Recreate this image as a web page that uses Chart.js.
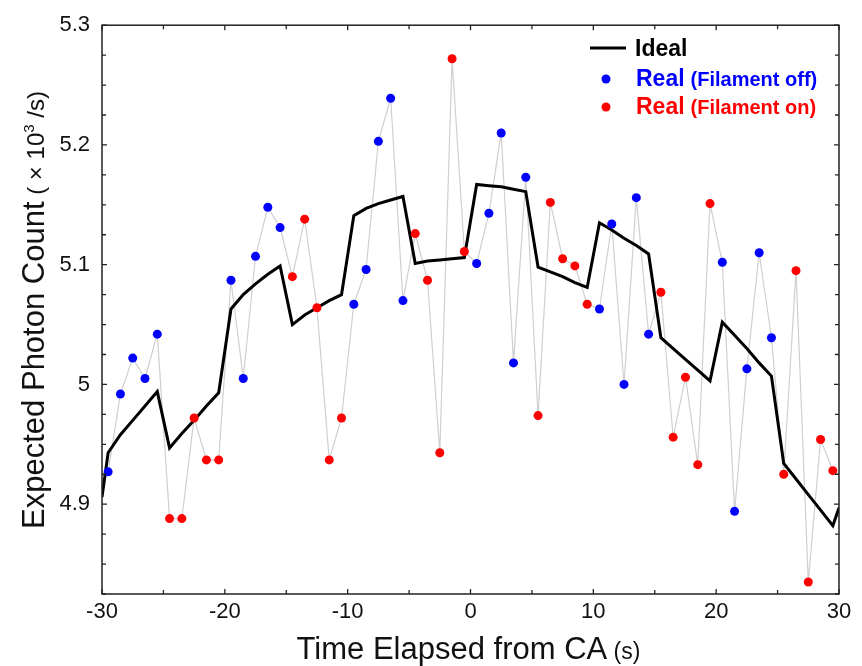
<!DOCTYPE html>
<html>
<head>
<meta charset="utf-8">
<script src="https://cdn.jsdelivr.net/npm/chart.js@4/dist/chart.umd.min.js"></script>
<style>
html,body{margin:0;padding:0;background:#fff;}
#wrap{width:862px;height:666px;position:relative;}
</style>
</head>
<body>
<div id="wrap"><canvas id="c" width="862" height="666"></canvas></div>
<script>
// ---- DATA ----
const realTimes = [-29.5,-28.5,-27.5,-26.5,-25.5,-24.5,-23.5,-22.5,-21.5,-20.5,
  -19.5,-18.5,-17.5,-16.5,-15.5,-14.5,-13.5,-12.5,-11.5,-10.5,
  -9.5,-8.5,-7.5,-6.5,-5.5,-4.5,-3.5,-2.5,-1.5,-0.5,
  0.5,1.5,2.5,3.5,4.5,5.5,6.5,7.5,8.5,9.5,
  10.5,11.5,12.5,13.5,14.5,15.5,16.5,17.5,18.5,19.5,
  20.5,21.5,22.5,23.5,24.5,25.5,26.5,27.5,28.5,29.5];
const realCounts = [4.927,4.992,5.022,5.005,5.042, 4.888,4.888,4.972,4.937,4.937,
  5.087,5.005,5.107,5.148,5.131, 5.090,5.138,5.064,4.937,4.972,
  5.067,5.096,5.203,5.239,5.070, 5.126,5.087,4.943,5.272,5.111,
  5.101,5.143,5.210,5.018,5.173, 4.974,5.152,5.105,5.099,5.067,
  5.063,5.134,5.000,5.156,5.042, 5.077,4.956,5.006,4.933,5.151,
  5.102,4.894,5.013,5.110,5.039, 4.925,5.095,4.835,4.954,4.928];
const filament = ['off','off','off','off','off','on','on','on','on','on',
  'off','off','off','off','off','on','on','on','on','on',
  'off','off','off','off','off','on','on','on','on','on',
  'off','off','off','off','off','on','on','on','on','on',
  'off','off','off','off','off','on','on','on','on','on',
  'off','off','off','off','off','on','on','on','on','on'];
const idealTimes = [-30,-29.5,-28.5,-27.5,-26.5,-25.5,-24.5,-23.5,-22.5,-21.5,-20.5,
  -19.5,-18.5,-17.5,-16.5,-15.5,-14.5,-13.5,-12.5,-11.5,-10.5,
  -9.5,-8.5,-7.5,-6.5,-5.5,-4.5,-3.5,-2.5,-1.5,-0.5,
  0.5,1.5,2.5,3.5,4.5,5.5,6.5,7.5,8.5,9.5,
  10.5,11.5,12.5,13.5,14.5,15.5,16.5,17.5,18.5,19.5,
  20.5,21.5,22.5,23.5,24.5,25.5,26.5,27.5,28.5,29.5,30];
const idealCounts = [4.906,4.943,4.958,4.970,4.982,4.994, 4.947,4.959,4.970,4.982,4.993,
  5.063,5.075,5.084,5.092,5.099, 5.050,5.058,5.064,5.070,5.075,
  5.141,5.147,5.151,5.154,5.157, 5.101,5.103,5.104,5.105,5.106,
  5.167,5.166,5.165,5.163,5.161, 5.098,5.094,5.090,5.085,5.081,
  5.135,5.129,5.122,5.116,5.109, 5.039,5.030,5.021,5.012,5.003,
  5.052,5.041,5.030,5.018,5.007, 4.934,4.921,4.908,4.895,4.882,4.897];
const xTickLabels = [-30,-20,-10,0,10,20,30];
const xMinorTicks = [-25,-15,-5,5,15,25];
const yTickLabels = [4.9,5.0,5.1,5.2,5.3];
const yMinorTicks = [4.825,4.85,4.875,4.925,4.95,4.975,5.025,5.05,5.075,5.125,5.15,5.175,5.225,5.25,5.275];
const xRange = [-30,30];
const yRange = [4.825,5.3];

// ---- build datasets ----
const allPts = realTimes.map((t,i)=>({x:t,y:realCounts[i]}));
const offPts = allPts.filter((p,i)=>filament[i]==='off');
const onPts = allPts.filter((p,i)=>filament[i]==='on');
const idealPts = idealTimes.map((t,i)=>({x:t,y:idealCounts[i]}));

const FONT = "'Liberation Sans', Arial, Helvetica, sans-serif";

const framePlugin = {
  id:'frame',
  afterDraw(chart){
    const {ctx, chartArea:a, scales:{x,y}} = chart;
    ctx.save();
    ctx.strokeStyle = '#222';
    ctx.lineWidth = 1.5;
    ctx.strokeRect(a.left, a.top, a.right-a.left, a.bottom-a.top);
    ctx.lineWidth = 1.3;
    ctx.beginPath();
    const tx = (v,len)=>{const p=x.getPixelForValue(v);ctx.moveTo(p,a.bottom);ctx.lineTo(p,a.bottom-len);ctx.moveTo(p,a.top);ctx.lineTo(p,a.top+len);};
    const ty = (v,len)=>{const p=y.getPixelForValue(v);ctx.moveTo(a.left,p);ctx.lineTo(a.left+len,p);ctx.moveTo(a.right,p);ctx.lineTo(a.right-len,p);};
    xTickLabels.forEach(v=>tx(v,5)); xMinorTicks.forEach(v=>tx(v,4));
    yTickLabels.forEach(v=>ty(v,5)); yMinorTicks.forEach(v=>ty(v,4));
    ctx.stroke();

    // axis titles (mixed font sizes)
    ctx.fillStyle = '#111';
    ctx.textBaseline = 'alphabetic';
    const BIG = 31, SMALL = 23, SUP = 15;
    // x title
    const xt1 = 'Time Elapsed from CA', xt2 = ' (s)';
    ctx.font = `${BIG}px ${FONT}`; const w1 = ctx.measureText(xt1).width;
    ctx.font = `${SMALL}px ${FONT}`; const w2 = ctx.measureText(xt2).width;
    const cx = (a.left+a.right)/2 - 2; let sx = cx - (w1+w2)/2;
    ctx.font = `${BIG}px ${FONT}`; ctx.fillText(xt1, sx, 659);
    ctx.font = `${SMALL}px ${FONT}`; ctx.fillText(xt2, sx+w1, 659);
    // y title
    ctx.save();
    ctx.translate(44, 310);
    ctx.rotate(-Math.PI/2);
    const y1 = 'Expected Photon Count', y2 = ' ( \u00d7 10', y3='3', y4=' /s)';
    const YS = 24;
    ctx.font = `${BIG}px ${FONT}`; const m1 = ctx.measureText(y1).width;
    ctx.font = `${YS}px ${FONT}`; const m2 = ctx.measureText(y2).width;
    ctx.font = `${SUP}px ${FONT}`; const m3 = ctx.measureText(y3).width;
    ctx.font = `${YS}px ${FONT}`; const m4 = ctx.measureText(y4).width;
    let s = -(m1+m2+m3+m4)/2;
    ctx.font = `${BIG}px ${FONT}`; ctx.fillText(y1, s, 0); s+=m1;
    ctx.font = `${YS}px ${FONT}`; ctx.fillText(y2, s, 0); s+=m2;
    ctx.font = `${SUP}px ${FONT}`; ctx.fillText(y3, s, -10); s+=m3;
    ctx.font = `${YS}px ${FONT}`; ctx.fillText(y4, s, 0);
    ctx.restore();

    // legend
    ctx.lineWidth = 3; ctx.strokeStyle = '#000';
    ctx.beginPath(); ctx.moveTo(590,48); ctx.lineTo(626,48); ctx.stroke();
    ctx.font = `bold 23px ${FONT}`; ctx.fillStyle='#000';
    ctx.textBaseline='middle';
    ctx.fillText('Ideal', 635, 50);
    const rows = [{c:'#0000ff', y:79, t:'(Filament off)'},{c:'#ff0000', y:107, t:'(Filament on)'}];
    rows.forEach(r=>{
      ctx.fillStyle=r.c;
      ctx.beginPath(); ctx.arc(606, r.y, 4.5, 0, Math.PI*2); ctx.fill();
      ctx.font = `bold 23px ${FONT}`; ctx.fillText('Real', 636, r.y+1);
      const rw = ctx.measureText('Real').width + 6;
      ctx.font = `bold 20px ${FONT}`; ctx.fillText(r.t, 636+rw, r.y+1);
    });
    ctx.restore();
  }
};

new Chart(document.getElementById('c'), {
  type:'scatter',
  data:{datasets:[
    {label:'Real (Filament off)', data:offPts, showLine:false, pointRadius:4.5, pointHoverRadius:4.5,
     pointBackgroundColor:'#0000ff', pointBorderColor:'#0000ff', pointBorderWidth:0, order:0},
    {label:'Real (Filament on)', data:onPts, showLine:false, pointRadius:4.5, pointHoverRadius:4.5,
     pointBackgroundColor:'#ff0000', pointBorderColor:'#ff0000', pointBorderWidth:0, order:0},
    {label:'Ideal', data:idealPts, showLine:true, pointRadius:0, borderColor:'#000', borderWidth:3,
     tension:0, order:1},
    {label:'Real', data:allPts, showLine:true, pointRadius:0, borderColor:'#cfcfcf', borderWidth:1.2,
     tension:0, order:2}
  ]},
  options:{
    responsive:false, animation:false,
    layout:{padding:{top:25,right:23,left:0,bottom:0}},
    plugins:{legend:{display:false}, tooltip:{enabled:false}},
    scales:{
      x:{type:'linear', min:xRange[0], max:xRange[1],
        grid:{display:false, drawTicks:false}, border:{display:false},
        afterBuildTicks:(s)=>{s.ticks = xTickLabels.map(v=>({value:v}));},
        afterFit:(s)=>{s.height = 72;},
        ticks:{padding:5, color:'#111', font:{family:FONT, size:22}, maxRotation:0,
          callback:(v)=>String(v)}},
      y:{type:'linear', min:yRange[0], max:yRange[1],
        grid:{display:false, drawTicks:false}, border:{display:false},
        afterBuildTicks:(s)=>{s.ticks = yTickLabels.map(v=>({value:v}));},
        afterFit:(s)=>{s.width = 102;},
        ticks:{padding:12, color:'#111', font:{family:FONT, size:22},
          callback:(v)=>String(Math.round(v*10)/10)}}
    }
  },
  plugins:[framePlugin]
});
</script>
</body>
</html>
